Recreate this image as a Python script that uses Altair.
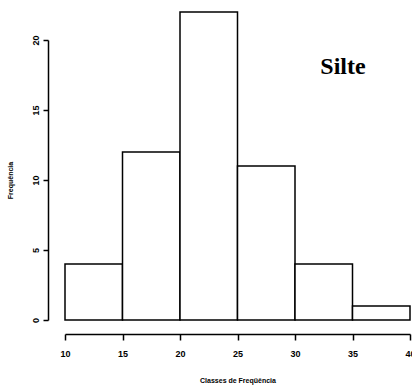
import altair as alt
import pandas as pd

bin_start = [10, 15, 20, 25, 30, 35]
bin_end = [15, 20, 25, 30, 35, 40]
counts = [4, 12, 22, 11, 4, 1]
x_ticks = [10, 15, 20, 25, 30, 35, 40]
y_ticks = [0, 5, 10, 15, 20]

df = pd.DataFrame({"start": bin_start, "end": bin_end, "count": counts})
ann = pd.DataFrame({"x": [32.2], "y": [17.6], "label": ["Silte"]})

x_enc = alt.X(
    "start:Q",
    scale=alt.Scale(domain=[10, 40], nice=False, zero=False),
    axis=alt.Axis(
        values=x_ticks, title="Classes de Freqüência", grid=False, offset=14,
        domainColor="black", domainWidth=1.5, tickColor="black", tickWidth=1.5,
        tickSize=6, labelFont="Liberation Sans", labelFontWeight="bold",
        labelFontSize=9, labelColor="black", labelPadding=9,
        titleFont="Liberation Sans", titleFontWeight="bold", titleFontSize=7,
        titleColor="black", titlePadding=18, labelFlush=False,
    ),
)
y_enc = alt.Y(
    "count:Q",
    scale=alt.Scale(domain=[0, 20], nice=False),
    axis=alt.Axis(
        values=y_ticks, title="Frequência", grid=False, offset=17,
        domainColor="black", domainWidth=1.5, tickColor="black", tickWidth=1.5,
        tickSize=5, labelFont="Liberation Sans", labelFontWeight="bold",
        labelFontSize=9, labelColor="black", labelAngle=270, labelPadding=3,
        titleFont="Liberation Sans", titleFontWeight="bold", titleFontSize=7,
        titleColor="black", titlePadding=18,
    ),
)

bars = alt.Chart(df).mark_bar(
    fill="white", stroke="black", strokeWidth=1.5
).encode(x=x_enc, x2="end:Q", y=y_enc, y2=alt.datum(0))

text = alt.Chart(ann).mark_text(
    font="Liberation Serif", fontSize=24, fontWeight="bold", color="black",
    align="left", baseline="alphabetic",
).encode(x="x:Q", y="y:Q", text="label:N")

chart = alt.layer(bars, text).properties(
    width=345, height=280,
    padding={"left": 65, "top": 40, "right": 2, "bottom": 67},
    autosize=alt.AutoSizeParams(type="none"),
    background="white",
).configure_view(strokeWidth=0, stroke="transparent")

chart.save("out.html", embed_options={"renderer": "svg", "actions": False})
